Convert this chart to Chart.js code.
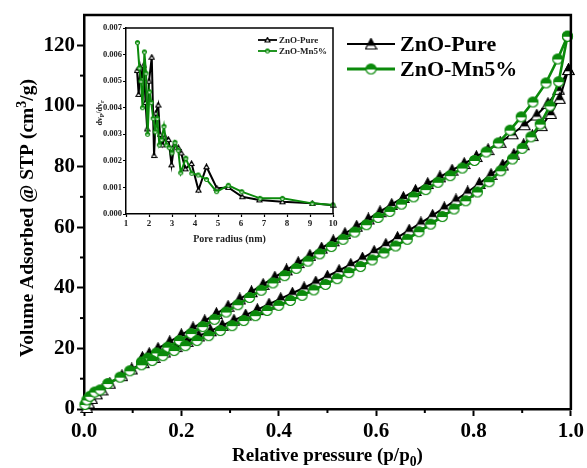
<!DOCTYPE html>
<html>
<head>
<meta charset="utf-8">
<script src="https://cdn.jsdelivr.net/npm/chart.js@4.4.1/dist/chart.umd.min.js"></script>
<style>
  html, body { margin: 0; padding: 0; background: #fff; }
  #wrap { position: relative; width: 587px; height: 468px; }
  #main { position: absolute; left: 0; top: 0; }
  #inset { position: absolute; left: 88px; top: 18px; }
</style>
</head>
<body>
<div id="wrap">
  <canvas id="main" width="587" height="468"></canvas>
  <canvas id="inset" width="255" height="232"></canvas>
</div>
<script>
// ---- main isotherm data (p/p0, cm3/g) ----
const pureAdsP = [0.006, 0.010, 0.016, 0.026, 0.037, 0.053, 0.078, 0.098, 0.122, 0.144, 0.166, 0.189, 0.212, 0.236, 0.260, 0.284, 0.308, 0.332, 0.356, 0.380, 0.404, 0.428, 0.452, 0.476, 0.500, 0.524, 0.548, 0.572, 0.596, 0.620, 0.644, 0.668, 0.692, 0.716, 0.740, 0.764, 0.788, 0.812, 0.836, 0.860, 0.883, 0.903, 0.921, 0.940, 0.959, 0.977, 0.995];
const pureAdsV = [0.5, 2.0, 3.5, 5.0, 6.3, 8.5, 11.0, 13.2, 15.3, 17.0, 18.8, 20.6, 22.3, 24.1, 25.8, 27.6, 29.3, 31.0, 32.8, 34.6, 36.4, 38.2, 40.0, 41.9, 43.8, 45.7, 47.7, 49.8, 52.0, 54.3, 56.6, 59.0, 61.4, 63.9, 66.4, 69.0, 71.6, 74.4, 77.4, 80.5, 84.0, 87.2, 90.2, 93.5, 97.5, 102.5, 112.0];
const pureDesP = [0.995, 0.975, 0.953, 0.930, 0.905, 0.880, 0.855, 0.830, 0.806, 0.781, 0.756, 0.731, 0.706, 0.681, 0.656, 0.632, 0.608, 0.584, 0.560, 0.536, 0.512, 0.488, 0.464, 0.440, 0.416, 0.392, 0.368, 0.344, 0.320, 0.296, 0.272, 0.248, 0.224, 0.200, 0.176, 0.152, 0.134, 0.120];
const pureDesV = [112.0, 105.5, 100.8, 97.0, 93.8, 90.8, 88.0, 85.6, 83.3, 81.0, 78.8, 76.6, 74.4, 72.1, 69.8, 67.5, 65.1, 62.7, 60.3, 57.9, 55.5, 53.1, 50.7, 48.3, 45.9, 43.5, 41.1, 38.7, 36.3, 33.9, 31.5, 29.1, 26.8, 24.5, 22.2, 20.0, 18.3, 17.0];

const mnAdsP = [0.002, 0.006, 0.012, 0.022, 0.033, 0.049, 0.074, 0.094, 0.118, 0.140, 0.162, 0.185, 0.208, 0.232, 0.256, 0.280, 0.304, 0.328, 0.352, 0.376, 0.400, 0.424, 0.448, 0.472, 0.496, 0.520, 0.544, 0.568, 0.592, 0.616, 0.640, 0.664, 0.688, 0.712, 0.736, 0.760, 0.784, 0.808, 0.832, 0.856, 0.880, 0.900, 0.918, 0.937, 0.957, 0.975, 0.993];
const mnAdsV = [1.5, 3.0, 4.2, 5.6, 6.3, 8.4, 10.5, 12.6, 14.6, 16.0, 17.6, 19.3, 20.9, 22.6, 24.2, 25.9, 27.5, 29.2, 30.8, 32.5, 34.2, 35.8, 37.5, 39.3, 41.1, 43.0, 45.0, 47.0, 49.2, 51.5, 53.8, 56.0, 58.5, 61.0, 63.5, 66.0, 68.7, 71.6, 75.0, 78.6, 82.5, 86.0, 89.8, 94.0, 100.0, 108.0, 123.0];
const mnDesP = [0.993, 0.973, 0.949, 0.922, 0.898, 0.875, 0.851, 0.826, 0.802, 0.777, 0.752, 0.727, 0.702, 0.677, 0.652, 0.628, 0.604, 0.580, 0.556, 0.532, 0.508, 0.484, 0.460, 0.436, 0.412, 0.388, 0.364, 0.340, 0.316, 0.292, 0.268, 0.244, 0.220, 0.196, 0.172, 0.149, 0.131, 0.118];
const mnDesV = [123.0, 115.5, 107.6, 101.3, 96.4, 92.0, 87.8, 84.8, 82.0, 79.5, 77.0, 74.8, 72.4, 70.0, 67.6, 65.2, 63.2, 60.8, 58.4, 56.0, 53.6, 51.2, 48.8, 46.4, 44.0, 41.6, 39.2, 36.8, 34.4, 32.0, 29.6, 27.2, 24.9, 22.6, 20.4, 18.5, 16.8, 15.5];

// ---- inset pore size distribution (nm, dVp/drp) ----
const insetPureR = [1.48, 1.55, 1.62, 1.70, 1.77, 1.85, 1.92, 2.00, 2.12, 2.22, 2.30, 2.40, 2.48, 2.58, 2.70, 2.85, 2.98, 3.10, 3.27, 3.40, 3.58, 3.85, 4.15, 4.50, 4.95, 5.45, 6.05, 6.80, 7.80, 9.10, 10.0];
const insetPureV = [0.0054, 0.0045, 0.0055, 0.0051, 0.0056, 0.0042, 0.0032, 0.0050, 0.0059, 0.0022, 0.0038, 0.0041, 0.0030, 0.0026, 0.0029, 0.0028, 0.00185, 0.0026, 0.0025, 0.0023, 0.0017, 0.0019, 0.0009, 0.00178, 0.00097, 0.0010, 0.00065, 0.00053, 0.00046, 0.00040, 0.00033];
const insetMnR = [1.50, 1.58, 1.65, 1.72, 1.80, 1.87, 1.94, 2.02, 2.10, 2.18, 2.27, 2.36, 2.45, 2.55, 2.65, 2.76, 2.88, 3.00, 3.13, 3.27, 3.38, 3.60, 3.86, 4.14, 4.50, 4.94, 5.45, 6.03, 6.83, 7.80, 9.10, 10.0];
const insetMnV = [0.00645, 0.0055, 0.0050, 0.0040, 0.0061, 0.0053, 0.0030, 0.0046, 0.0042, 0.0036, 0.0031, 0.0036, 0.0026, 0.0028, 0.0033, 0.0026, 0.0025, 0.0023, 0.0027, 0.0024, 0.00155, 0.0021, 0.00153, 0.00147, 0.0013, 0.00084, 0.00108, 0.00084, 0.00059, 0.00059, 0.00040, 0.00034];

const seriesNames = ['ZnO-Pure', 'ZnO-Mn5%'];
const BLACK = '#000000';
const GREEN = '#0b8a0b';
const SERIF = '"Liberation Serif", "Times New Roman", serif';

const mainMinorX = [0.1, 0.3, 0.5, 0.7, 0.9];
const mainMinorY = [10, 30, 50, 70, 90, 110];

function pts(xs, ys) { return xs.map((v, i) => ({ x: v, y: ys[i] })); }

// half filled markers (top coloured, bottom white)
function halfCircle(d, color, frac) {
  const c = document.createElement('canvas');
  c.width = c.height = d + 2;
  const g = c.getContext('2d');
  const cx = (d + 2) / 2, r = d / 2 - 0.5;
  const circ = () => { g.beginPath(); g.arc(cx, cx, r, 0, Math.PI * 2); };
  g.fillStyle = '#fff'; circ(); g.fill();
  g.save(); g.beginPath(); g.rect(0, 0, d + 2, cx - r + 2 * r * frac); g.clip();
  g.fillStyle = color; circ(); g.fill(); g.restore();
  g.strokeStyle = color; g.lineWidth = 1.2; circ(); g.stroke();
  return c;
}
function halfTriangle(d, color, frac) {
  const c = document.createElement('canvas');
  c.width = c.height = d + 2;
  const g = c.getContext('2d');
  const l = 1, rr = d + 1, top = 1, bot = d + 0.5, mid = top + (bot - top) * frac;
  const tri = () => { g.beginPath(); g.moveTo((l + rr) / 2, top); g.lineTo(rr, bot); g.lineTo(l, bot); g.closePath(); };
  g.fillStyle = '#fff'; tri(); g.fill();
  g.save(); g.beginPath(); g.rect(0, 0, d + 2, mid); g.clip();
  g.fillStyle = color; tri(); g.fill(); g.restore();
  g.strokeStyle = color; g.lineWidth = 1.2; tri(); g.stroke();
  return c;
}

const triMark = halfTriangle(11, BLACK, 0.68);
const cirMark = halfCircle(11, GREEN, 0.55);
const triSmall = halfTriangle(5, BLACK, 0.5);
const cirSmall = halfCircle(5, GREEN, 0.5);

function ds(data, color, width, mark) {
  return { data, borderColor: color, borderWidth: width, pointStyle: mark, pointRadius: 5,
           backgroundColor: color, tension: 0, clip: false, fill: false };
}

// text helper with sub/superscript pieces: [text, shift] shift>0 = down
function drawRich(ctx, parts, x, y, size, align) {
  let total = 0;
  parts.forEach(p => { ctx.font = 'bold ' + (p[1] ? size * 0.72 : size) + 'px ' + SERIF; total += ctx.measureText(p[0]).width; });
  let cx = align === 'center' ? x - total / 2 : x;
  parts.forEach(p => {
    const s = p[1] ? size * 0.72 : size;
    ctx.font = 'bold ' + s + 'px ' + SERIF;
    ctx.fillText(p[0], cx, y + (p[1] || 0) * size);
    cx += ctx.measureText(p[0]).width;
  });
}

const mainDecor = {
  id: 'mainDecor',
  afterDraw(chart) {
    const { ctx, chartArea: a, scales: { x, y } } = chart;
    ctx.save();
    ctx.strokeStyle = BLACK;
    ctx.lineWidth = 2.5;
    ctx.beginPath();
    ctx.moveTo(a.left - 1, a.top); ctx.lineTo(a.right, a.top); ctx.lineTo(a.right, a.bottom + 1);
    ctx.stroke();
    ctx.lineWidth = 2;
    mainMinorX.forEach(v => {
      const px = x.getPixelForValue(v);
      ctx.beginPath(); ctx.moveTo(px, a.bottom); ctx.lineTo(px, a.bottom + 4); ctx.stroke();
    });
    mainMinorY.forEach(v => {
      const py = y.getPixelForValue(v);
      ctx.beginPath(); ctx.moveTo(a.left, py); ctx.lineTo(a.left - 4, py); ctx.stroke();
    });

    ctx.fillStyle = BLACK;
    ctx.textBaseline = 'alphabetic';
    // x title
    drawRich(ctx, [['Relative pressure (p/p'], ['0', 0.25], [')']], (a.left + a.right) / 2, 461, 19, 'center');
    // y title
    ctx.save();
    ctx.translate(33, (a.top + a.bottom) / 2 + 6);
    ctx.rotate(-Math.PI / 2);
    drawRich(ctx, [['Volume Adsorbed @ STP (cm'], ['3', -0.38], ['/g)']], 0, 0, 19.5, 'center');
    ctx.restore();

    // legend
    const rows = [[BLACK, 2, triMark, 44], [GREEN, 2.8, cirMark, 69]];
    rows.forEach((r, i) => {
      ctx.strokeStyle = r[0]; ctx.lineWidth = r[1];
      ctx.beginPath(); ctx.moveTo(347, r[3]); ctx.lineTo(395, r[3]); ctx.stroke();
      ctx.drawImage(r[2], 371 - r[2].width / 2, r[3] - r[2].height / 2);
      ctx.fillStyle = BLACK;
      ctx.font = 'bold 22px ' + SERIF;
      ctx.textBaseline = 'middle';
      ctx.fillText(seriesNames[i], 400, r[3] + 1);
    });
    ctx.restore();
  }
};

new Chart(document.getElementById('main').getContext('2d'), {
  type: 'line',
  data: {
    datasets: [
      ds(pts(mnAdsP, mnAdsV), GREEN, 2.6, cirMark),
      ds(pts(mnDesP, mnDesV), GREEN, 2.6, cirMark),
      ds(pts(pureAdsP, pureAdsV), BLACK, 2, triMark),
      ds(pts(pureDesP, pureDesV), BLACK, 2, triMark)
    ]
  },
  options: {
    responsive: false,
    animation: false,
    events: [],
    layout: { padding: { left: 0, right: 14, top: 15, bottom: 0 } },
    plugins: { legend: { display: false }, tooltip: { enabled: false } },
    scales: {
      x: {
        type: 'linear', min: 0, max: 1,
        border: { display: true, color: BLACK, width: 2.5 },
        grid: { drawOnChartArea: false, drawTicks: true, tickLength: 7, tickWidth: 2, tickColor: BLACK },
        ticks: { stepSize: 0.2, color: BLACK, padding: 3, maxRotation: 0, includeBounds: false,
                 font: { family: SERIF, size: 21, weight: 'bold' }, callback: v => Number(v).toFixed(1) },
        afterFit: s => { s.height = 59; }
      },
      y: {
        type: 'linear', min: 0, max: 130,
        border: { display: true, color: BLACK, width: 2.5 },
        grid: { drawOnChartArea: false, drawTicks: true, tickLength: 7, tickWidth: 2, tickColor: BLACK },
        ticks: { stepSize: 20, color: BLACK, padding: 2, includeBounds: false,
                 font: { family: SERIF, size: 21, weight: 'bold' }, callback: v => String(v) },
        afterFit: s => { s.width = 84; }
      }
    }
  },
  plugins: [mainDecor]
});

// ---- inset ----
const insetDecor = {
  id: 'insetDecor',
  afterDraw(chart) {
    const { ctx, chartArea: a } = chart;
    ctx.save();
    ctx.strokeStyle = BLACK; ctx.lineWidth = 1.5;
    ctx.beginPath();
    ctx.moveTo(a.left, a.top); ctx.lineTo(a.right, a.top); ctx.lineTo(a.right, a.bottom);
    ctx.stroke();
    ctx.fillStyle = '#222';
    ctx.textBaseline = 'alphabetic';
    drawRich(ctx, [['Pore radius (nm)']], (a.left + a.right) / 2, 224, 10, 'center');
    ctx.save();
    ctx.translate(14, (a.top + a.bottom) / 2 - 8);
    ctx.rotate(-Math.PI / 2);
    drawRich(ctx, [['dv'], ['P', 0.25], ['/dv'], ['r', 0.25]], 0, 0, 8, 'center');
    ctx.restore();

    const rows = [[BLACK, 1.8, triSmall, 22], [GREEN, 1.8, cirSmall, 33]];
    rows.forEach((r, i) => {
      ctx.strokeStyle = r[0]; ctx.lineWidth = r[1];
      ctx.beginPath(); ctx.moveTo(170, r[3]); ctx.lineTo(189, r[3]); ctx.stroke();
      ctx.drawImage(r[2], 179.5 - r[2].width / 2, r[3] - r[2].height / 2);
      ctx.fillStyle = '#222';
      ctx.font = 'bold 9px ' + SERIF;
      ctx.textBaseline = 'middle';
      ctx.fillText(seriesNames[i], 191, r[3] + 0.5);
    });
    ctx.restore();
  }
};

function ids(data, color, mark) {
  return { data, borderColor: color, borderWidth: 2, pointStyle: mark, pointRadius: 3,
           backgroundColor: '#fff', tension: 0, clip: false, fill: false };
}

new Chart(document.getElementById('inset').getContext('2d'), {
  type: 'line',
  data: {
    datasets: [
      ids(pts(insetMnR, insetMnV), GREEN, cirSmall),
      ids(pts(insetPureR, insetPureV), BLACK, triSmall)
    ]
  },
  options: {
    responsive: false,
    animation: false,
    events: [],
    layout: { padding: { left: 0, right: 10, top: 10, bottom: 0 } },
    plugins: { legend: { display: false }, tooltip: { enabled: false } },
    scales: {
      x: {
        type: 'linear', min: 1, max: 10,
        border: { display: true, color: BLACK, width: 1.5 },
        grid: { drawOnChartArea: false, drawTicks: true, tickLength: 3, tickWidth: 1.2, tickColor: BLACK },
        ticks: { stepSize: 1, color: '#222', padding: 1, maxRotation: 0,
                 font: { family: SERIF, size: 9, weight: 'bold' } },
        afterFit: s => { s.height = 36; }
      },
      y: {
        type: 'linear', min: 0, max: 0.007,
        border: { display: true, color: BLACK, width: 1.5 },
        grid: { drawOnChartArea: false, drawTicks: true, tickLength: 3, tickWidth: 1.2, tickColor: BLACK },
        ticks: { stepSize: 0.001, color: '#222', padding: 1,
                 font: { family: SERIF, size: 8.5, weight: 'bold' }, callback: v => Number(v).toFixed(3) },
        afterFit: s => { s.width = 38; }
      }
    }
  },
  plugins: [insetDecor]
});
</script>
</body>
</html>
